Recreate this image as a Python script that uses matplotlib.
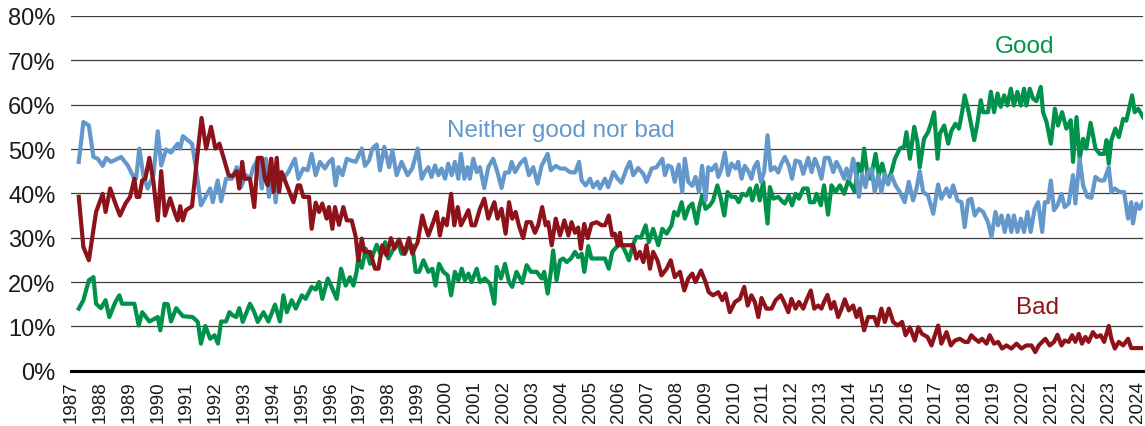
import matplotlib
matplotlib.use("Agg")
import matplotlib.pyplot as plt

plt.rcParams["font.family"] = ["Liberation Sans", "DejaVu Sans"]

# --- data: decimal year, percent -------------------------------------------
GOOD_YEAR = [
    1987.26, 1987.42, 1987.61, 1987.77, 1987.86, 1988.03, 1988.19, 1988.32, 1988.53, 1988.67,
    1988.76, 1989.19, 1989.34, 1989.46, 1989.71, 1990.00, 1990.09, 1990.23, 1990.35, 1990.46,
    1990.64, 1990.87, 1991.21, 1991.39, 1991.50, 1991.65, 1991.82, 1991.97, 1992.09, 1992.20,
    1992.37, 1992.49, 1992.60, 1992.72, 1992.83, 1992.95, 1993.20, 1993.35, 1993.47, 1993.67,
    1993.84, 1994.07, 1994.24, 1994.36, 1994.48, 1994.65, 1994.79, 1995.00, 1995.13, 1995.34,
    1995.48, 1995.60, 1995.71, 1995.90, 1996.06, 1996.21, 1996.36, 1996.52, 1996.67, 1996.79,
    1996.90, 1996.96, 1997.08, 1997.22, 1997.37, 1997.48, 1997.60, 1997.75, 1997.89, 1998.00,
    1998.18, 1998.33, 1998.46, 1998.58, 1998.70, 1998.83, 1998.95, 1999.07, 1999.22, 1999.39,
    1999.53, 1999.64, 1999.76, 1999.91, 2000.06, 2000.18, 2000.31, 2000.43, 2000.55, 2000.66,
    2000.78, 2000.89, 2001.07, 2001.18, 2001.35, 2001.53, 2001.68, 2001.76, 2001.91, 2002.05,
    2002.19, 2002.30, 2002.45, 2002.57, 2002.65, 2002.80, 2002.95, 2003.15, 2003.32, 2003.41,
    2003.53, 2003.64, 2003.72, 2003.84, 2003.96, 2004.07, 2004.19, 2004.34, 2004.48, 2004.59,
    2004.71, 2004.80, 2004.94, 2005.05, 2005.17, 2005.34, 2005.52, 2005.65, 2005.77, 2005.92,
    2006.09, 2006.23, 2006.35, 2006.50, 2006.61, 2006.77, 2006.93, 2007.04, 2007.19, 2007.37,
    2007.51, 2007.66, 2007.83, 2007.92, 2008.04, 2008.18, 2008.29, 2008.43, 2008.55, 2008.70,
    2008.78, 2008.89, 2009.01, 2009.16, 2009.27, 2009.42, 2009.54, 2009.66, 2009.77, 2009.91,
    2010.05, 2010.16, 2010.28, 2010.43, 2010.55, 2010.63, 2010.78, 2010.89, 2011.01, 2011.16,
    2011.24, 2011.36, 2011.53, 2011.70, 2011.76, 2011.90, 2012.01, 2012.13, 2012.25, 2012.40,
    2012.55, 2012.63, 2012.78, 2012.86, 2013.01, 2013.12, 2013.26, 2013.38, 2013.52, 2013.67,
    2013.82, 2013.96, 2014.07, 2014.19, 2014.30, 2014.42, 2014.51, 2014.63, 2014.74, 2014.91,
    2015.02, 2015.14, 2015.29, 2015.44, 2015.58, 2015.75, 2015.90, 2015.98, 2016.10, 2016.25,
    2016.36, 2016.44, 2016.59, 2016.73, 2016.85, 2016.94, 2017.06, 2017.14, 2017.29, 2017.43,
    2017.54, 2017.68, 2017.80, 2017.91, 2018.00, 2018.14, 2018.33, 2018.44, 2018.56, 2018.64,
    2018.81, 2018.91, 2019.02, 2019.14, 2019.25, 2019.37, 2019.48, 2019.60, 2019.71, 2019.83,
    2019.95, 2020.06, 2020.14, 2020.26, 2020.37, 2020.49, 2020.64, 2020.72, 2020.84, 2020.99,
    2021.13, 2021.24, 2021.38, 2021.53, 2021.68, 2021.76, 2021.88, 2021.99, 2022.11, 2022.22,
    2022.37, 2022.54, 2022.69, 2022.84, 2022.92, 2023.00, 2023.09, 2023.23, 2023.35, 2023.50,
    2023.61, 2023.73, 2023.81, 2023.90, 2024.02, 2024.19,
]
GOOD = [
    14.0, 15.9, 20.4, 21.1, 15.1, 14.1, 15.9, 12.1, 15.5, 17.0,
    15.1, 15.1, 10.2, 13.2, 11.1, 12.1, 9.1, 15.1, 15.0, 11.1,
    14.1, 12.3, 12.1, 11.0, 6.1, 10.1, 7.2, 8.0, 6.1, 11.1,
    11.1, 13.2, 12.5, 12.1, 14.1, 11.0, 15.1, 13.2, 11.0, 13.2,
    11.1, 14.9, 11.1, 17.0, 13.2, 15.9, 14.0, 17.0, 16.2, 18.9,
    18.3, 20.0, 16.2, 20.8, 18.5, 16.2, 23.0, 19.2, 21.1, 19.2,
    22.3, 25.3, 23.2, 27.5, 24.1, 26.4, 28.4, 26.0, 29.0, 25.3,
    27.5, 29.0, 26.4, 26.4, 28.3, 28.3, 22.3, 22.3, 24.9, 22.3,
    23.0, 19.2, 24.1, 22.3, 21.5, 17.0, 22.3, 20.4, 23.0, 20.4,
    21.9, 20.0, 23.0, 20.0, 20.8, 19.6, 15.1, 23.4, 20.8, 24.1,
    20.0, 18.9, 22.3, 20.8, 19.8, 23.8, 22.3, 22.3, 20.8, 22.3,
    17.4, 22.3, 27.1, 20.4, 24.9, 25.3, 24.5, 25.3, 26.8, 25.6,
    26.4, 22.3, 28.1, 25.3, 25.3, 25.3, 25.3, 23.0, 26.8, 27.9,
    28.6, 26.8, 24.9, 28.6, 30.2, 30.0, 32.8, 29.0, 32.0, 28.3,
    32.0, 30.9, 32.8, 35.8, 35.0, 38.0, 34.3, 36.9, 37.7, 33.2,
    36.5, 39.5, 36.5, 37.3, 38.4, 41.8, 38.8, 35.0, 40.3, 39.2,
    39.2, 38.0, 39.9, 39.5, 41.1, 38.4, 41.8, 38.4, 42.6, 33.2,
    41.4, 38.8, 39.2, 38.0, 37.7, 39.5, 37.3, 39.9, 38.8, 41.1,
    41.1, 38.0, 38.0, 39.9, 37.3, 41.8, 35.2, 41.8, 40.3, 41.8,
    39.9, 42.9, 41.8, 40.3, 46.7, 44.8, 50.1, 44.1, 43.3, 48.9,
    44.1, 46.7, 42.6, 44.4, 47.8, 50.1, 50.5, 53.8, 47.8, 55.0,
    51.6, 45.9, 52.3, 53.8, 56.1, 58.3, 47.8, 53.5, 55.3, 51.2,
    54.1, 55.7, 54.6, 58.3, 62.1, 58.3, 52.0, 55.7, 61.0, 58.3,
    58.3, 62.9, 58.3, 62.5, 59.5, 62.1, 59.8, 63.6, 59.8, 62.9,
    59.8, 63.6, 59.8, 63.6, 61.4, 60.8, 64.0, 58.3, 56.1, 51.2,
    59.1, 55.3, 58.3, 54.6, 56.5, 47.1, 57.2, 47.8, 52.3, 50.1,
    55.9, 50.1, 48.9, 48.9, 52.0, 46.7, 52.0, 54.6, 52.7, 56.8,
    56.4, 59.8, 62.1, 58.3, 59.1, 57.2,
]

NEITHER_YEAR = [
    1987.26, 1987.42, 1987.61, 1987.77, 1987.92, 1988.09, 1988.21, 1988.38, 1988.73, 1988.96,
    1989.19, 1989.25, 1989.36, 1989.50, 1989.65, 1989.85, 1990.00, 1990.12, 1990.29, 1990.46,
    1990.69, 1990.78, 1990.87, 1991.04, 1991.19, 1991.33, 1991.50, 1991.68, 1991.82, 1991.91,
    1992.08, 1992.20, 1992.37, 1992.58, 1992.74, 1992.89, 1993.06, 1993.20, 1993.32, 1993.49,
    1993.61, 1993.75, 1993.86, 1993.95, 1994.09, 1994.19, 1994.36, 1994.53, 1994.76, 1994.88,
    1995.05, 1995.20, 1995.34, 1995.48, 1995.63, 1995.80, 1995.92, 1996.06, 1996.17, 1996.27,
    1996.41, 1996.56, 1996.71, 1996.87, 1997.08, 1997.19, 1997.33, 1997.45, 1997.60, 1997.71,
    1997.86, 1998.03, 1998.14, 1998.29, 1998.46, 1998.67, 1998.83, 1999.02, 1999.16, 1999.27,
    1999.39, 1999.50, 1999.62, 1999.74, 1999.85, 1999.97, 2000.08, 2000.20, 2000.31, 2000.43,
    2000.52, 2000.64, 2000.75, 2000.83, 2000.95, 2001.07, 2001.18, 2001.33, 2001.47, 2001.64,
    2001.79, 2001.93, 2002.05, 2002.19, 2002.28, 2002.40, 2002.57, 2002.74, 2002.88, 2003.03,
    2003.18, 2003.32, 2003.53, 2003.64, 2003.81, 2003.96, 2004.13, 2004.30, 2004.48, 2004.62,
    2004.71, 2004.85, 2005.00, 2005.11, 2005.26, 2005.34, 2005.52, 2005.63, 2005.81, 2005.96,
    2006.09, 2006.27, 2006.38, 2006.50, 2006.67, 2006.85, 2006.96, 2007.14, 2007.31, 2007.51,
    2007.60, 2007.71, 2007.83, 2007.94, 2008.08, 2008.20, 2008.29, 2008.41, 2008.55, 2008.66,
    2008.78, 2008.89, 2009.01, 2009.10, 2009.22, 2009.36, 2009.45, 2009.56, 2009.68, 2009.79,
    2009.91, 2010.05, 2010.14, 2010.26, 2010.37, 2010.51, 2010.60, 2010.70, 2010.81, 2010.93,
    2011.04, 2011.16, 2011.27, 2011.41, 2011.53, 2011.64, 2011.76, 2011.90, 2012.01, 2012.13,
    2012.28, 2012.40, 2012.57, 2012.69, 2012.80, 2012.92, 2013.03, 2013.15, 2013.29, 2013.44,
    2013.55, 2013.67, 2013.82, 2013.90, 2014.01, 2014.13, 2014.25, 2014.33, 2014.44, 2014.56,
    2014.65, 2014.77, 2014.88, 2015.00, 2015.11, 2015.23, 2015.34, 2015.46, 2015.60, 2015.75,
    2015.92, 2016.06, 2016.21, 2016.33, 2016.44, 2016.56, 2016.73, 2016.91, 2017.08, 2017.19,
    2017.37, 2017.48, 2017.60, 2017.75, 2017.89, 2018.00, 2018.12, 2018.23, 2018.35, 2018.49,
    2018.64, 2018.81, 2018.93, 2019.07, 2019.16, 2019.28, 2019.39, 2019.51, 2019.62, 2019.71,
    2019.83, 2019.95, 2020.06, 2020.18, 2020.29, 2020.43, 2020.55, 2020.69, 2020.78, 2020.89,
    2020.99, 2021.10, 2021.22, 2021.36, 2021.47, 2021.61, 2021.76, 2021.84, 2021.99, 2022.11,
    2022.26, 2022.40, 2022.54, 2022.69, 2022.84, 2023.00, 2023.09, 2023.21, 2023.38, 2023.53,
    2023.67, 2023.78, 2023.84, 2023.96, 2024.07, 2024.19,
]
NEITHER = [
    47.1, 56.1, 55.3, 48.2, 47.8, 46.2, 48.0, 47.1, 48.2, 46.3,
    43.3, 43.3, 50.1, 44.1, 41.1, 44.1, 54.0, 46.3, 49.9, 49.2,
    51.2, 50.1, 52.9, 52.0, 51.2, 45.6, 37.3, 39.5, 41.1, 38.0,
    42.9, 38.2, 43.3, 43.3, 45.9, 41.4, 44.1, 43.3, 45.9, 47.8,
    41.1, 47.8, 39.2, 47.8, 38.0, 44.8, 43.3, 44.8, 47.8, 43.3,
    45.6, 45.2, 48.9, 44.1, 47.1, 45.6, 46.9, 47.8, 41.8, 45.9,
    44.1, 47.8, 47.4, 47.1, 50.1, 46.2, 47.4, 50.1, 51.0, 45.2,
    50.5, 45.9, 49.7, 44.1, 47.1, 44.1, 45.6, 50.1, 43.3, 44.8,
    45.9, 43.7, 46.3, 44.1, 45.6, 43.3, 46.7, 44.1, 47.1, 43.3,
    48.9, 43.3, 45.9, 43.3, 47.8, 44.8, 45.9, 41.2, 45.9, 47.8,
    44.7, 41.2, 44.7, 44.7, 47.1, 44.8, 46.7, 47.8, 44.1, 45.9,
    42.2, 46.2, 48.9, 45.2, 46.2, 45.6, 45.6, 44.8, 44.7, 47.1,
    42.9, 41.8, 43.3, 41.4, 42.6, 41.1, 43.3, 41.4, 44.8, 43.3,
    42.4, 45.6, 47.1, 44.1, 45.7, 44.4, 42.6, 45.6, 45.9, 47.8,
    44.1, 46.3, 45.9, 42.6, 46.5, 40.3, 47.8, 42.6, 41.7, 43.7,
    40.3, 46.2, 38.4, 45.9, 45.2, 46.5, 43.7, 45.6, 49.2, 44.1,
    46.7, 45.6, 47.1, 43.3, 46.2, 44.8, 43.3, 45.9, 47.1, 42.6,
    44.8, 53.1, 45.2, 45.9, 44.7, 46.7, 48.2, 46.3, 43.3, 47.4,
    47.1, 44.4, 48.0, 44.8, 47.8, 45.9, 43.3, 48.0, 48.0, 44.8,
    47.1, 45.6, 43.3, 45.6, 43.3, 47.8, 43.3, 39.2, 44.4, 41.4,
    44.8, 45.6, 40.3, 44.1, 40.3, 44.4, 42.0, 44.1, 41.8, 40.3,
    38.0, 42.6, 38.4, 41.1, 45.0, 40.3, 39.5, 35.4, 42.0, 38.8,
    41.1, 39.2, 41.8, 38.4, 38.0, 32.4, 38.4, 38.8, 35.0, 36.5,
    35.8, 33.5, 30.2, 35.8, 32.8, 35.0, 31.3, 35.0, 31.3, 35.0,
    31.3, 34.3, 31.3, 35.8, 31.3, 36.5, 38.0, 31.3, 38.0, 38.0,
    42.9, 36.2, 37.3, 39.9, 36.9, 37.7, 44.1, 37.7, 47.8, 41.8,
    39.2, 39.0, 43.7, 42.9, 42.9, 45.9, 40.3, 41.1, 40.3, 40.3,
    34.3, 38.0, 33.2, 37.7, 36.5, 38.0,
]

BAD_YEAR = [
    1987.26, 1987.42, 1987.61, 1987.86, 1988.09, 1988.19, 1988.35, 1988.53, 1988.69, 1988.88,
    1989.04, 1989.19, 1989.27, 1989.36, 1989.46, 1989.57, 1989.71, 1989.85, 1990.00, 1990.12,
    1990.25, 1990.43, 1990.58, 1990.69, 1990.78, 1990.87, 1990.98, 1991.19, 1991.35, 1991.52,
    1991.68, 1991.85, 1992.00, 1992.14, 1992.26, 1992.46, 1992.60, 1992.74, 1992.83, 1992.93,
    1993.01, 1993.20, 1993.35, 1993.47, 1993.61, 1993.72, 1993.82, 1993.93, 1994.02, 1994.13,
    1994.21, 1994.30, 1994.48, 1994.71, 1994.86, 1994.94, 1995.05, 1995.25, 1995.34, 1995.48,
    1995.60, 1995.71, 1995.86, 1995.94, 1996.06, 1996.15, 1996.29, 1996.44, 1996.56, 1996.73,
    1996.87, 1996.96, 1997.08, 1997.17, 1997.37, 1997.54, 1997.66, 1997.79, 1997.94, 1998.09,
    1998.21, 1998.37, 1998.56, 1998.72, 1998.83, 1999.02, 1999.18, 1999.27, 1999.39, 1999.56,
    1999.68, 1999.79, 1999.91, 2000.03, 2000.18, 2000.29, 2000.41, 2000.52, 2000.64, 2000.78,
    2000.89, 2001.01, 2001.18, 2001.33, 2001.47, 2001.59, 2001.68, 2001.79, 2001.93, 2002.07,
    2002.19, 2002.30, 2002.42, 2002.53, 2002.68, 2002.80, 2002.95, 2003.09, 2003.20, 2003.34,
    2003.46, 2003.55, 2003.67, 2003.81, 2003.96, 2004.11, 2004.25, 2004.36, 2004.48, 2004.59,
    2004.68, 2004.80, 2004.92, 2005.05, 2005.23, 2005.40, 2005.52, 2005.65, 2005.77, 2005.86,
    2005.96, 2006.04, 2006.09, 2006.50, 2006.61, 2006.73, 2006.85, 2006.96, 2007.08, 2007.19,
    2007.34, 2007.48, 2007.66, 2007.80, 2007.94, 2008.12, 2008.27, 2008.41, 2008.55, 2008.66,
    2008.85, 2009.01, 2009.12, 2009.27, 2009.45, 2009.59, 2009.70, 2009.85, 2010.03, 2010.20,
    2010.35, 2010.47, 2010.60, 2010.72, 2010.84, 2010.95, 2011.12, 2011.30, 2011.44, 2011.62,
    2011.76, 2011.88, 2011.99, 2012.13, 2012.25, 2012.40, 2012.51, 2012.66, 2012.78, 2012.92,
    2013.03, 2013.12, 2013.24, 2013.36, 2013.47, 2013.61, 2013.73, 2013.84, 2013.98, 2014.13,
    2014.25, 2014.36, 2014.51, 2014.65, 2014.86, 2014.97, 2015.11, 2015.23, 2015.37, 2015.52,
    2015.67, 2015.83, 2015.95, 2016.10, 2016.27, 2016.39, 2016.52, 2016.71, 2016.85, 2017.08,
    2017.19, 2017.37, 2017.52, 2017.66, 2017.83, 2018.00, 2018.12, 2018.23, 2018.35, 2018.49,
    2018.60, 2018.76, 2018.87, 2019.02, 2019.16, 2019.30, 2019.45, 2019.62, 2019.80, 2019.97,
    2020.14, 2020.32, 2020.45, 2020.57, 2020.69, 2020.80, 2020.95, 2021.10, 2021.22, 2021.36,
    2021.47, 2021.61, 2021.73, 2021.84, 2021.96, 2022.07, 2022.19, 2022.30, 2022.45, 2022.57,
    2022.72, 2022.84, 2023.00, 2023.09, 2023.21, 2023.35, 2023.50, 2023.67, 2023.78, 2023.96,
    2024.19,
]
BAD = [
    39.2, 27.9, 24.9, 35.8, 39.9, 35.8, 41.1, 37.7, 35.0, 37.7,
    39.2, 43.3, 39.2, 39.2, 42.9, 43.3, 48.0, 42.6, 33.9, 45.0,
    35.0, 38.9, 35.8, 33.9, 37.1, 33.9, 36.2, 37.1, 47.1, 57.0,
    50.1, 55.0, 50.1, 51.2, 48.6, 44.1, 43.9, 45.0, 41.1, 47.1,
    43.3, 43.3, 36.9, 48.0, 48.0, 43.3, 41.8, 47.8, 40.3, 48.0,
    40.3, 44.8, 41.8, 38.0, 41.8, 41.8, 39.2, 39.2, 32.0, 37.9,
    35.8, 37.7, 34.3, 36.9, 32.0, 36.9, 32.9, 36.9, 33.9, 33.9,
    30.2, 24.9, 29.8, 26.8, 26.8, 23.0, 23.0, 28.3, 26.0, 29.9,
    27.5, 29.6, 26.4, 29.9, 26.4, 29.0, 35.0, 32.8, 30.5, 33.5,
    35.8, 30.5, 34.3, 32.8, 39.9, 32.8, 36.9, 32.8, 34.3, 36.2,
    32.8, 32.8, 36.5, 38.8, 34.3, 36.5, 38.0, 34.3, 36.5, 30.9,
    38.0, 34.3, 35.8, 32.8, 29.9, 33.5, 33.5, 31.1, 32.8, 36.9,
    32.8, 33.5, 28.3, 34.3, 30.5, 33.9, 30.5, 33.5, 31.1, 32.3,
    27.5, 33.1, 29.9, 33.1, 33.5, 32.8, 32.8, 35.0, 30.5, 30.9,
    28.3, 31.1, 28.3, 28.3, 25.3, 26.8, 24.5, 28.3, 23.0, 26.8,
    24.9, 21.5, 23.0, 24.9, 21.1, 22.3, 18.1, 20.8, 21.9, 20.0,
    22.6, 20.0, 17.7, 17.0, 17.7, 15.9, 17.4, 13.2, 15.5, 16.2,
    18.9, 14.7, 17.0, 15.5, 12.1, 16.4, 14.0, 14.0, 15.9, 17.0,
    15.1, 13.2, 16.2, 14.0, 15.5, 14.0, 15.9, 18.1, 14.0, 14.7,
    14.0, 15.5, 17.1, 14.0, 15.5, 12.1, 14.0, 16.1, 13.6, 14.7,
    12.1, 14.0, 9.1, 12.1, 12.1, 10.2, 14.0, 11.0, 14.0, 11.0,
    10.2, 11.0, 8.0, 9.8, 6.8, 9.8, 8.3, 7.6, 5.7, 10.2,
    6.1, 8.7, 5.7, 6.8, 7.2, 6.5, 6.5, 8.0, 7.2, 6.5,
    7.2, 6.1, 8.0, 6.1, 6.5, 5.0, 5.7, 5.0, 6.1, 5.0,
    5.7, 5.7, 4.2, 5.7, 6.5, 7.2, 5.7, 6.5, 8.1, 5.7,
    6.8, 6.5, 8.0, 6.5, 8.3, 6.1, 7.6, 6.5, 8.7, 7.6,
    8.0, 6.5, 10.1, 7.2, 5.0, 6.5, 5.7, 7.2, 5.1, 5.1,
    5.1,
]

YEARS = list(range(1987, 2025))
Y_TICKS = list(range(0, 81, 10))

GREEN = "#00924a"
BLUE = "#6498cb"
RED = "#8e1219"

fig = plt.figure(figsize=(11.45, 4.27), dpi=100)
ax = fig.add_axes([0.062, 0.1295, 0.9363, 0.8307])

# Excel-like draw order: Good underneath, Neither, then Bad on top
ax.plot(GOOD_YEAR, GOOD, color=GREEN, lw=3.0, zorder=3)
ax.plot(NEITHER_YEAR, NEITHER, color=BLUE, lw=3.0, zorder=4)
ax.plot(BAD_YEAR, BAD, color=RED, lw=3.0, zorder=5)

ax.text(2003.99, 54.3, "Neither good nor bad", color=BLUE, fontsize=17.5,
        ha="center", va="center")
ax.text(2020.08, 73.3, "Good", color=GREEN, fontsize=17.5, ha="center", va="center")
ax.text(2020.52, 14.4, "Bad", color=RED, fontsize=17.5, ha="center", va="center")

ax.set_xlim(1986.99, 2024.19)
ax.set_ylim(0, 80)
ax.set_yticks(Y_TICKS)
ax.set_yticklabels([f"{v}%" for v in Y_TICKS], fontsize=17, color="#1a1a1a")
ax.set_xticks(YEARS)
ax.set_xticklabels([str(y) for y in YEARS], rotation=90, fontsize=13.5,
                   color="#1a1a1a", va="top", ha="center")
ax.tick_params(axis="both", length=0)
ax.tick_params(axis="y", pad=11)
ax.tick_params(axis="x", pad=7)

ax.yaxis.grid(True, color="#3c3c3c", lw=0.9)
ax.set_axisbelow(True)
for side in ("left", "right", "top"):
    ax.spines[side].set_visible(False)
ax.spines["bottom"].set_linewidth(2.2)
ax.spines["bottom"].set_color("black")
ax.spines["bottom"].set_zorder(6)

fig.savefig("out.png", dpi=100)
